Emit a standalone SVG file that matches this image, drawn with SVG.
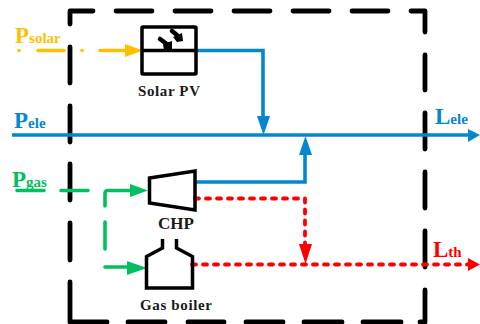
<svg xmlns="http://www.w3.org/2000/svg" width="480" height="324" viewBox="0 0 480 324">
<style>
.b{fill:none;stroke:#000;stroke-width:4.800;stroke-linecap:round;stroke-linejoin:round}
.n{fill:none;stroke:#000;stroke-width:3.500;stroke-linejoin:miter}
.y{fill:none;stroke:#FFC000;stroke-width:3.600;stroke-linecap:round}
.e{fill:none;stroke:#0388D0;stroke-width:3.600}
.g{fill:none;stroke:#00C060;stroke-width:3.600;stroke-linecap:round;stroke-linejoin:round}
.r{fill:none;stroke:#F00;stroke-width:3.800;stroke-dasharray:4 7;stroke-linecap:round}
text{font-family:"Liberation Serif","Times New Roman",serif;font-weight:bold}
.l{font-size:15px;fill:#1a1a1a}
.bg{font-size:23px}
.sm{font-size:15px}
</style>
<g id="boundary"><path class="b" d="M70 24V11H93M116 11H152M175 11H211M234 11H270M293 11H329M352 11H388M411 11H425V32M425 55V90M425 113V149M425 172V208M425 231V267M425 290V322H420M401 322H363M342 322H304M283 322H246M224 322H188M165 322H128M107 322H70V282M70 260V223M70 200V164M70 142V106M70 83V47"/></g>
<g id="connectors">
<path class="y" d="M19 50.500h.1M38 50.500H64M82 50.500h.1M100 50.500H126"/>
<polygon points="125,44 143,50.500 125,57" fill="#FFC000"/>
<path class="e" d="M196 50.500H263V118"/>
<polygon points="257,116 270,116 263.500,135" fill="#0388D0"/>
<path class="e" d="M12 135H470"/>
<polygon points="468,129 480,135 468,142" fill="#0388D0"/>
<path class="e" d="M196 182H305V154"/>
<polygon points="299,155 312,155 305.500,136" fill="#0388D0"/>
<path class="g" d="M17 190.500H44M61 190.500H88M105 206V193.500Q105 190.500 108 190.500H132M105 222V249M105 267H129"/>
<polygon points="130,184 148,190.500 130,197" fill="#00C060"/>
<polygon points="127,261 147,268 127,275" fill="#00C060"/>
<path class="r" d="M195 198.500H305V246"/>
<polygon points="299,244 312,244 305.500,264" fill="#F00"/>
<path class="r" d="M192 264.500H470"/>
<polygon points="468,258 480,264.500 468,271" fill="#F00"/>
</g>
<g id="solar-pv">
<rect class="n" x="142" y="27" width="54" height="47" rx="1"/>
<path class="n" d="M142 50.500H196"/>
<path d="M160 39L168 45" stroke="#000" stroke-width="4.500" stroke-linecap="round"/>
<polygon points="164,50 172,50 172,41 163,44"/>
<path d="M172 31L177 35" stroke="#000" stroke-width="4.500" stroke-linecap="round"/>
<polygon points="173,37 182,33 183,41 177,42"/>
<text class="l" x="138" y="96" textLength="62">Solar PV</text>
</g>
<g id="chp">
<polygon class="n" points="149.500,178 195,171 195,210 149.500,203"/>
<text class="l" x="158" y="229" style="font-size:17px">CHP</text>
</g>
<g id="gas-boiler">
<path class="n" d="M162.500 239V248L146.500 256.500V288H192.500V256.500L176.500 248V239"/>
<text class="l" x="140" y="310" textLength="72">Gas boiler</text>
</g>
<g id="labels">
<text x="15" y="43" fill="#FFC000"><tspan class="bg">P</tspan><tspan class="sm">solar</tspan></text>
<text x="14" y="128" fill="#0388D0"><tspan class="bg">P</tspan><tspan class="sm">ele</tspan></text>
<text x="12" y="187" fill="#00C060"><tspan class="bg">P</tspan><tspan class="sm">gas</tspan></text>
<text x="435" y="124" fill="#0388D0"><tspan class="bg">L</tspan><tspan class="sm">ele</tspan></text>
<text x="433" y="257" fill="#F00"><tspan class="bg">L</tspan><tspan class="sm">th</tspan></text>
</g>
</svg>
